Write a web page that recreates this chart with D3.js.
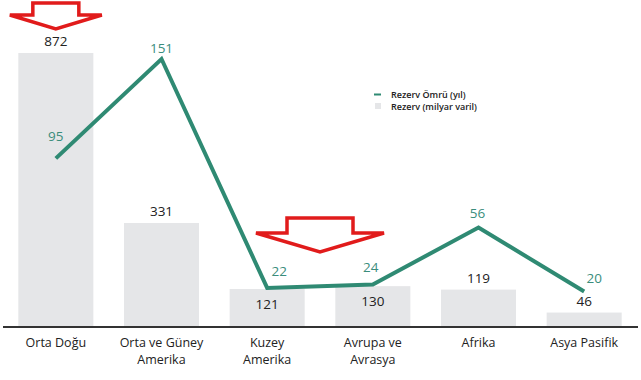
<!DOCTYPE html>
<html><head><meta charset="utf-8">
<script src="https://cdn.jsdelivr.net/npm/d3@7/dist/d3.min.js"></script>
<style>body{margin:0;background:#fff}svg{display:block;font-family:"Open Sans","Noto Sans",sans-serif}</style>
</head><body>
<svg id="c" width="641" height="380"></svg>
<script>
const categories = [["Orta Doğu"],["Orta ve Güney","Amerika"],["Kuzey","Amerika"],["Avrupa ve","Avrasya"],["Afrika"],["Asya Pasifik"]];
const reserves = [872, 331, 121, 130, 119, 46];        // Rezerv (milyar varil)
const lifetime = [95, 151, 22, 24, 56, 20];            // Rezerv Ömrü (yıl)
const seriesNames = ["Rezerv Ömrü (yıl)", "Rezerv (milyar varil)"];
const insideLabel = [false, false, true, true, false, false];

const svg = d3.select("#c");
const teal = "#2f8a73", tealText = "#3a8d7c", grey = "#e5e6e8";
const base = 327;
const x = d3.scaleBand().domain(d3.range(categories.length)).range([3, 637]).paddingInner(0.29).paddingOuter(0.145);
const yBar = d3.scaleLinear().domain([0, 872]).range([base, 53]);
const yLine = d3.scaleLinear().domain([0, 151]).range([base, 59]);
const cx = i => x(i) + x.bandwidth() / 2;

// bars
svg.append("g").selectAll("rect").data(reserves).join("rect")
  .attr("x", (d, i) => x(i)).attr("width", x.bandwidth())
  .attr("y", d => yBar(d)).attr("height", d => base - yBar(d))
  .attr("fill", grey);

// axis
const axis = svg.append("g").attr("transform", `translate(0,${base})`)
  .call(d3.axisBottom(x).tickSize(0).tickFormat(""));
axis.select(".domain").attr("stroke", "#333").attr("stroke-width", 2).attr("d", "M3,0H638");

// category labels
const cl = svg.append("g").attr("font-size", 12.5).attr("fill", "#222").attr("text-anchor", "middle");
categories.forEach((lines, i) => {
  lines.forEach((t, k) => cl.append("text").attr("x", cx(i)).attr("y", 347 + k * 16.5).text(t));
});

// bar labels
svg.append("g").selectAll("text").data(reserves).join("text")
  .attr("x", (d, i) => cx(i))
  .attr("y", (d, i) => insideLabel[i] ? yBar(d) + 20 : yBar(d) - 7)
  .attr("text-anchor", "middle").attr("font-size", 13.5).attr("fill", "#222")
  .text(d => d);

// line
const line = d3.line().x((d, i) => cx(i)).y(d => yLine(d));
svg.append("path").datum(lifetime).attr("d", line)
  .attr("fill", "none").attr("stroke", teal).attr("stroke-width", 4).attr("stroke-linejoin", "miter");

// line labels
const lOff = [[0, -17], [0, -6], [12, -12], [-2, -12], [-1, -10], [10, -9]];
svg.append("g").selectAll("text").data(lifetime).join("text")
  .attr("x", (d, i) => cx(i) + lOff[i][0])
  .attr("y", (d, i) => yLine(d) + lOff[i][1])
  .attr("text-anchor", "middle").attr("font-size", 13.5).attr("fill", tealText)
  .text(d => d);

// legend
const lg = svg.append("g").attr("font-size", 9).attr("font-weight", 600).attr("fill", "#222");
lg.append("line").attr("x1", 374).attr("x2", 381).attr("y1", 94.5).attr("y2", 94.5).attr("stroke", teal).attr("stroke-width", 2);
lg.append("text").attr("x", 391).attr("y", 97.5).text(seriesNames[0]);
lg.append("rect").attr("x", 375).attr("y", 103).attr("width", 6).attr("height", 6).attr("fill", grey);
lg.append("text").attr("x", 391).attr("y", 109.5).text(seriesNames[1]);

// red arrows
function arrow(cxp, top, stemW, neck, headW, tip) {
  const p = d3.path();
  p.moveTo(cxp - stemW / 2, top); p.lineTo(cxp + stemW / 2, top);
  p.lineTo(cxp + stemW / 2, neck); p.lineTo(cxp + headW / 2, neck);
  p.lineTo(cxp, tip); p.lineTo(cxp - headW / 2, neck);
  p.lineTo(cxp - stemW / 2, neck); p.closePath();
  svg.append("path").attr("d", p.toString()).attr("fill", "#fff")
    .attr("stroke", "#e11b1b").attr("stroke-width", 3.5).attr("stroke-linejoin", "miter");
}
arrow(cx(0), 3, 46, 15, 92, 29);
arrow((cx(2) + cx(3)) / 2, 218, 66, 233, 128, 252);
</script>
</body></html>
